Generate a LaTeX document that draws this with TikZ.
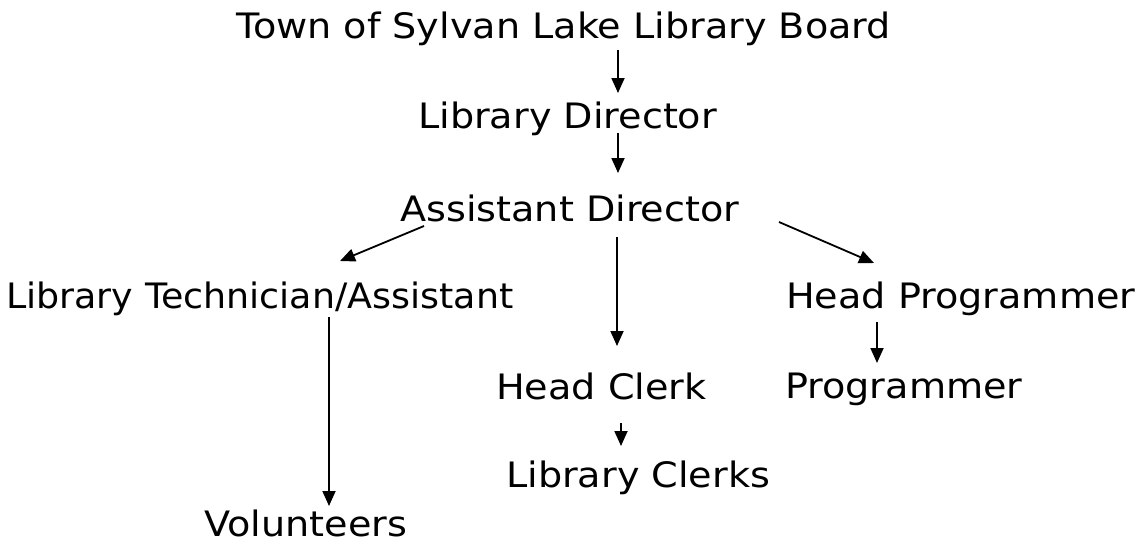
\documentclass[tikz,border=0pt]{standalone}
\usepackage{fontspec}
\setmainfont[FakeStretch=1.09]{DejaVu Sans}
\newfontfamily\narrowfont[FakeStretch=1.04]{DejaVu Sans}
\usetikzlibrary{arrows.meta}
\begin{document}
\begin{tikzpicture}[x=1pt,y=-1pt,
  lbl/.style={anchor=base west,inner sep=0pt,font=\fontsize{35}{42}\selectfont},
  arr/.style={line width=1.8pt,-{Triangle[width=13pt,length=15pt]}}]
\useasboundingbox (0,0) rectangle (1136,541);
\node[lbl] (board) at (236,38) {Town of Sylvan Lake Library Board};
\node[lbl] (dir) at (418,128) {Library Director};
\node[lbl] (asst) at (400,221) {Assistant Director};
\node[lbl,font=\fontsize{35}{42}\narrowfont] (tech) at (6,308) {Library Technician/Assistant};
\node[lbl] (hprog) at (786,308) {Head Programmer};
\node[lbl] (prog) at (785,398) {Programmer};
\node[lbl] (hclerk) at (496,399) {Head Clerk};
\node[lbl] (clerks) at (506,487) {Library Clerks};
\node[lbl] (vol) at (204,536) {Volunteers};
\coordinate (a1s) at (618,50); \coordinate (a1e) at (618,93);
\coordinate (a2s) at (618,133); \coordinate (a2e) at (618,173);
\coordinate (a3s) at (424,226); \coordinate (a3e) at (340,261);
\coordinate (a4s) at (617,237); \coordinate (a4e) at (617,346);
\coordinate (a5s) at (779,222); \coordinate (a5e) at (874,263);
\coordinate (a6s) at (877,322); \coordinate (a6e) at (877,363);
\coordinate (a7s) at (621,423); \coordinate (a7e) at (621,446);
\coordinate (a8s) at (329,317); \coordinate (a8e) at (329,506);
\draw[arr] (a1s) -- (a1e);
\draw[arr] (a2s) -- (a2e);
\draw[arr] (a3s) -- (a3e);
\draw[arr] (a4s) -- (a4e);
\draw[arr] (a5s) -- (a5e);
\draw[arr] (a6s) -- (a6e);
\draw[arr] (a7s) -- (a7e);
\draw[arr] (a8s) -- (a8e);
\end{tikzpicture}
\end{document}
